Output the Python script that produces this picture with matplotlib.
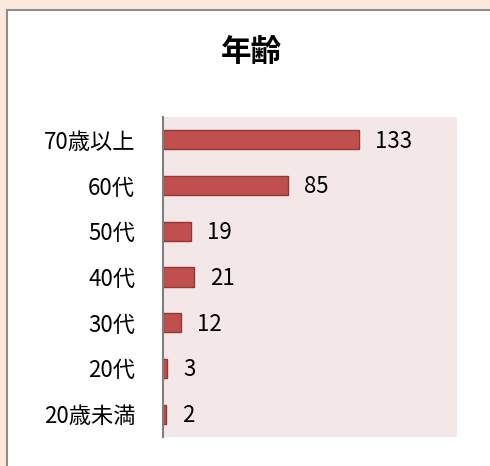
import matplotlib
matplotlib.use("Agg")
import matplotlib.pyplot as plt
from matplotlib.patches import Rectangle

plt.rcParams['font.family'] = ['Noto Sans CJK JP', 'DejaVu Sans']

# data (top to bottom as drawn)
categories = ['70歳以上', '60代', '50代', '40代', '30代', '20代', '20歳未満']
counts = [133, 85, 19, 21, 12, 3, 2]

W, H = 490, 466
fig = plt.figure(figsize=(W / 100, H / 100), dpi=100)
fig.patch.set_facecolor('#fde9da')

# white chart panel with grey border
panel = Rectangle((7 / W, -0.05), 1.1, 1 - 10 / H + 0.05, transform=fig.transFigure,
                  facecolor='white', edgecolor='#8c8c8c', linewidth=1.5, zorder=-5)
fig.patches.append(panel)

# plot area: x 163..457, y 117..437 (pixels)
ax = fig.add_axes([163 / W, 1 - 437 / H, (457 - 163) / W, (437 - 117) / H])
ax.set_facecolor('#f3e8e7')

ypos = list(range(len(categories)))
ax.barh(ypos, counts, height=0.42, color='#c0504d', edgecolor='#943634', linewidth=1)
ax.set_xlim(0, 200)
ax.set_ylim(len(categories) - 0.5, -0.5)

for y, v in zip(ypos, counts):
    ax.text(v + 11, y + 0.03, str(v), va='center', ha='left', fontsize=16)

ax.set_yticks(ypos)
ax.set_yticklabels(categories, fontsize=16)
ax.tick_params(axis='y', length=0, pad=20)
ax.set_xticks([])
for s in ['top', 'right', 'bottom']:
    ax.spines[s].set_visible(False)
ax.spines['left'].set_color('#7f7f7f')
ax.spines['left'].set_linewidth(1.5)

fig.text(251 / W, 1 - 52 / H, '年齢', ha='center', va='center', fontsize=22, fontweight='bold')

fig.savefig('out.png', dpi=100, facecolor=fig.get_facecolor())
